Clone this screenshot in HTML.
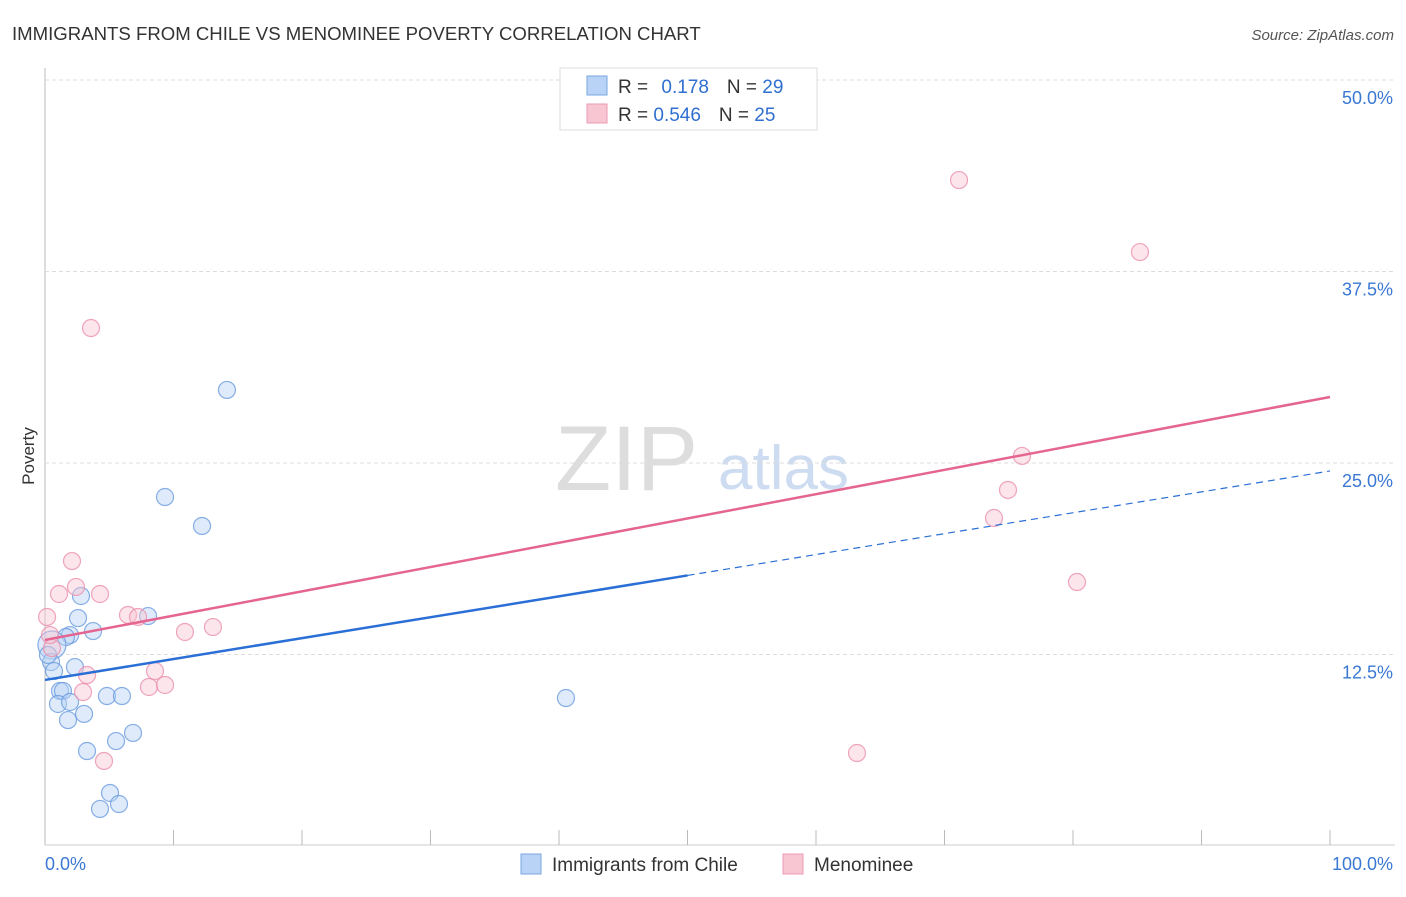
<!DOCTYPE html>
<html><head><meta charset="utf-8"><style>
body{margin:0;background:#fff;font-family:"Liberation Sans",sans-serif}
svg text{font-family:"Liberation Sans",sans-serif}
</style></head><body>
<svg width="1406" height="892" id="c">
<text x="12" y="40" font-size="18.6" fill="#333">IMMIGRANTS FROM CHILE VS MENOMINEE POVERTY CORRELATION CHART</text>
<text x="1394" y="40" font-size="15" fill="#555" font-style="italic" text-anchor="end">Source: ZipAtlas.com</text>
<text x="555" y="490" font-size="92" fill="#ddd" font-family="Liberation Serif">ZIP</text>
<text x="718" y="489" font-size="62" fill="#cddcf0">atlas</text>
<text transform="translate(34,456) rotate(-90)" font-size="17" fill="#333" text-anchor="middle">Poverty</text>
<g id="grid"></g><g id="marks"></g>
<g>
<rect x="560" y="68" width="257" height="62" fill="#fff" stroke="#ddd"/>
<rect x="587" y="76" width="20" height="19" fill="#b8d3f5" stroke="#7aa7e0"/>
<rect x="587" y="104" width="20" height="19" fill="#f8c5d3" stroke="#eb9ab4"/>
<text x="618" y="93" font-size="19" fill="#333">R = <tspan fill="#2f6fd0" dx="8">0.178</tspan><tspan fill="#333" dx="18">N = </tspan><tspan fill="#2f6fd0">29</tspan></text>
<text x="618" y="121" font-size="19" fill="#333">R = <tspan fill="#2f6fd0">0.546</tspan><tspan fill="#333" dx="18">N = </tspan><tspan fill="#2f6fd0">25</tspan></text>
</g>
<g>
<rect x="521" y="854" width="20" height="20" fill="#b8d3f5" stroke="#7aa7e0"/>
<text x="552" y="871" font-size="19" fill="#333">Immigrants from Chile</text>
<rect x="783" y="854" width="20" height="20" fill="#f8c5d3" stroke="#eb9ab4"/>
<text x="814" y="871" font-size="19" fill="#333">Menominee</text>
</g>
</svg>
<script>
const yTicks=[12.5,25,37.5,50];
const yTickLabels=["12.5%","25.0%","37.5%","50.0%"];
const xTickLabels=["0.0%","100.0%"];
const blueX=[9.34,12.22,14.16,8.02,40.54,2.57,2.80,3.74,1.95,1.63,0.54,0.47,0.70,2.33,1.17,1.40,1.01,1.95,1.79,3.04,4.82,5.99,3.27,5.53,6.85,5.06,4.28,5.76,0.23];
const blueY=[22.78,20.89,29.77,15.01,9.66,14.88,16.32,14.03,13.77,13.64,13.12,12.01,11.42,11.68,10.12,10.12,9.27,9.40,8.22,8.62,9.79,9.79,6.20,6.85,7.38,3.46,2.42,2.74,12.47];
const pinkX=[71.13,85.21,3.58,76.03,74.94,73.85,80.31,63.19,2.10,2.41,1.09,4.28,0.16,6.46,7.24,10.89,13.07,0.54,3.27,8.56,2.96,8.09,9.34,4.59,0.39];
const pinkY=[43.47,38.77,33.81,25.46,23.24,21.41,17.23,6.07,18.60,16.91,16.45,16.45,14.95,15.08,14.95,13.97,14.29,12.92,11.16,11.42,10.05,10.38,10.51,5.55,13.77];
const blueTrend=[10.84,24.48];
const pinkTrend=[13.45,29.31];
const sx=v=>45+v*12.85, sy=v=>846-v*15.32;
const NS="http://www.w3.org/2000/svg";
const grid=document.getElementById('grid'), marks=document.getElementById('marks');
function mk(tag,a,p){const e=document.createElementNS(NS,tag);for(const k in a)e.setAttribute(k,a[k]);p.appendChild(e);return e;}
let ax=mk('line',{x1:45,y1:68,x2:45,y2:845,stroke:'#bbb'},grid);


let bx=mk('line',{x1:45,y1:845,x2:1395,y2:845,stroke:'#ccc'},grid);


yTicks.forEach((t,i)=>{
 let l=mk('line',{x1:45,x2:1395,y1:sy(t),y2:sy(t),stroke:'#ddd','stroke-dasharray':'4,3'},grid);
 
 
 let tx=mk('text',{x:1393,y:sy(t)+24,'font-size':18,fill:'#3a78d4','text-anchor':'end'},grid);
 tx.textContent=yTickLabels[i];
 
 
});
for(let i=0;i<=10;i++){let l=mk('line',{x1:sx(i*10),x2:sx(i*10),y1:830,y2:845,stroke:'#bbb'},grid);
 
 }
[[0,'start',45],[100,'end',1393]].forEach((d,i)=>{let t=mk('text',{x:d[2],y:870,'font-size':18,fill:'#3a78d4','text-anchor':d[1]},grid);t.textContent=xTickLabels[i];
 
 });
function pts(X,Y,fill,stroke,name){X.forEach((x,i)=>{let c=mk('circle',{cx:sx(x),cy:sy(Y[i]),r:(i==10&&name=='blue-point')?14:8.5,fill:fill,'fill-opacity':0.45,stroke:stroke,'stroke-opacity':0.8,'stroke-width':1.2},marks);
 
 });}
pts(blueX,blueY,'#b8d3f5','#6a9be0','blue-point');
pts(pinkX,pinkY,'#f8c5d3','#eb8fae','pink-point');
const bAt=v=>blueTrend[0]+(blueTrend[1]-blueTrend[0])*v/100;
let b1=mk('line',{x1:sx(0),y1:sy(bAt(0)),x2:sx(50),y2:sy(bAt(50)),stroke:'#2a6fd6','stroke-width':2.5},marks);


let b2=mk('line',{x1:sx(50),y1:sy(bAt(50)),x2:sx(100),y2:sy(bAt(100)),stroke:'#2a6fd6','stroke-width':1.2,'stroke-dasharray':'7,5'},marks);


let p1=mk('line',{x1:sx(0),y1:sy(pinkTrend[0]),x2:sx(100),y2:sy(pinkTrend[1]),stroke:'#e56591','stroke-width':2.5},marks);


</script>
</body></html>
